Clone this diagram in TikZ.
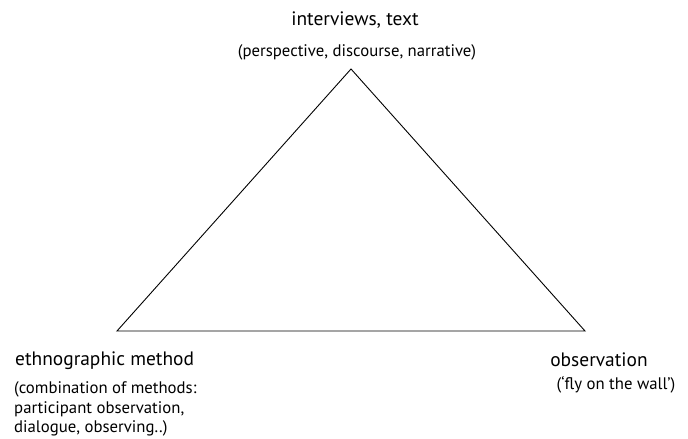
\documentclass[tikz,border=0pt]{standalone}
\usepackage{fontspec}
\setmainfont{PT Sans}
\usetikzlibrary{positioning}
\tikzset{
  corner/.style={font=\fontsize{19.5}{23}\selectfont,inner sep=0pt},
  note/.style={font=\fontsize{16.8}{20}\selectfont,inner sep=0pt}
}

\begin{document}
\begin{tikzpicture}[x=1bp,y=1bp]
  \useasboundingbox (0,0) rectangle (688,439);
  % triangle corners
  \coordinate (top) at (351,370);
  \coordinate (lft) at (117,108);
  \coordinate (rgt) at (585,108);
  \draw[line width=0.9bp,line join=miter] (top) -- (rgt) -- (lft) -- cycle;
  % labels
  \node[corner] (interv) at (355,419) {interviews, text};
  \node[note] (persp) at (357,387) {(perspective, discourse, narrative)};
  \node[corner,anchor=west] (ethno) at (15,78) {ethnographic method};
  \node[note,anchor=north west,align=left] (combi) at (14,58)
    {(combination of methods:\\participant observation,\\dialogue, observing..)};
  \node[corner] (obs) at (599,79) {observation};
  \node[note] (fly) at (616,54) {(`fly on the wall')};
\end{tikzpicture}
\end{document}
